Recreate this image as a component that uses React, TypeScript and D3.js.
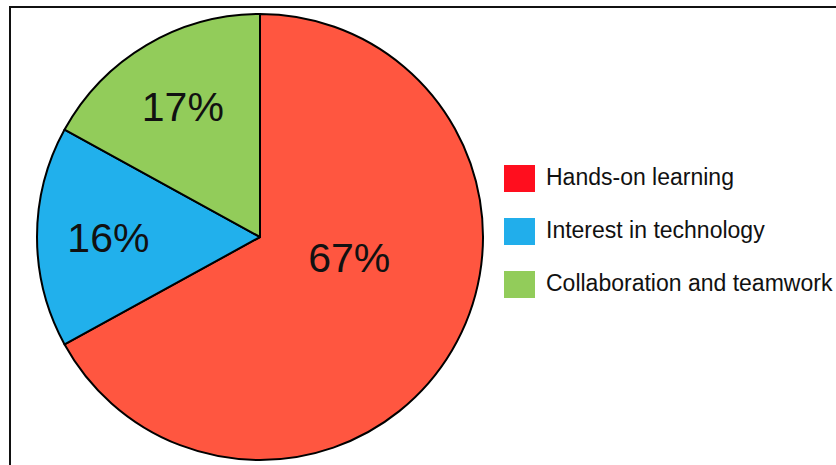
import React from 'react';
import * as d3 from 'd3';

// 데이터
const categories = ['Hands-on learning', 'Interest in technology', 'Collaboration and teamwork'];
const shares = [67, 16, 17];
const sliceColors = ['#ff5640', '#21b0ec', '#92cc5a'];
const legendColors = ['#ff0e1e', '#21aeeb', '#92cc5a'];

const WIDTH = 836;
const HEIGHT = 465;
const FONT = '"Liberation Sans", Arial, Helvetica, sans-serif';

export default function App() {
  // 파이 중심과 반지름
  const cx = 260;
  const cy = 237;
  const radius = 223;

  const pie = d3
    .pie<number>()
    .sort(null)
    .value((d) => d);
  const arcs = pie(shares);

  const arc = d3.arc<d3.PieArcDatum<number>>().innerRadius(0).outerRadius(radius);

  // 라벨 위치: 작은 조각은 중간 각도, 반 이상인 조각은 시작점에서 조금 떨어진 각도
  const labelPos = (a: d3.PieArcDatum<number>) => {
    const span = a.endAngle - a.startAngle;
    const big = span > Math.PI;
    const angle = big ? a.startAngle + Math.PI * 0.57 : (a.startAngle + a.endAngle) / 2;
    const r = big ? radius * 0.41 : radius * 0.68;
    return [Math.sin(angle) * r, -Math.cos(angle) * r];
  };

  const labelSize = 41;

  // 범례 배치
  const legendX = 504;
  const legendY = d3
    .scalePoint<string>()
    .domain(categories)
    .range([178.5, 284.5]);
  const swatchW = 31;
  const swatchH = 27;
  const legendFont = 23;

  return (
    <svg
      width={WIDTH}
      height={HEIGHT}
      style={{ position: 'absolute', left: 0, top: 0, background: '#fff' }}
      fontFamily={FONT}>
      {/* 테두리 */}
      <line x1={10} y1={7} x2={WIDTH} y2={7} stroke="#111" strokeWidth={2} />
      <line x1={10} y1={6} x2={10} y2={HEIGHT} stroke="#111" strokeWidth={2} />

      <g transform={`translate(${cx}, ${cy})`}>
        {arcs.map((a, i) => (
          <path key={categories[i]} d={arc(a) as string} fill={sliceColors[i]} stroke="#000" strokeWidth={2} strokeLinejoin="round" />
        ))}
        {arcs.map((a, i) => {
          const [x, y] = labelPos(a);
          return (
            <text
              key={`l-${categories[i]}`}
              x={x}
              y={y + labelSize * 0.358}
              textAnchor="middle"
              fontSize={labelSize}
              fill="#111">
              {`${shares[i]}%`}
            </text>
          );
        })}
      </g>

      {/* 범례 */}
      {categories.map((c, i) => {
        const y = legendY(c) as number;
        return (
          <g key={`lg-${c}`}>
            <rect x={legendX} y={y - swatchH / 2} width={swatchW} height={swatchH} fill={legendColors[i]} />
            <text x={legendX + 42} y={y + legendFont * 0.3} fontSize={legendFont} fill="#111">
              {c}
            </text>
          </g>
        );
      })}
    </svg>
  );
}
